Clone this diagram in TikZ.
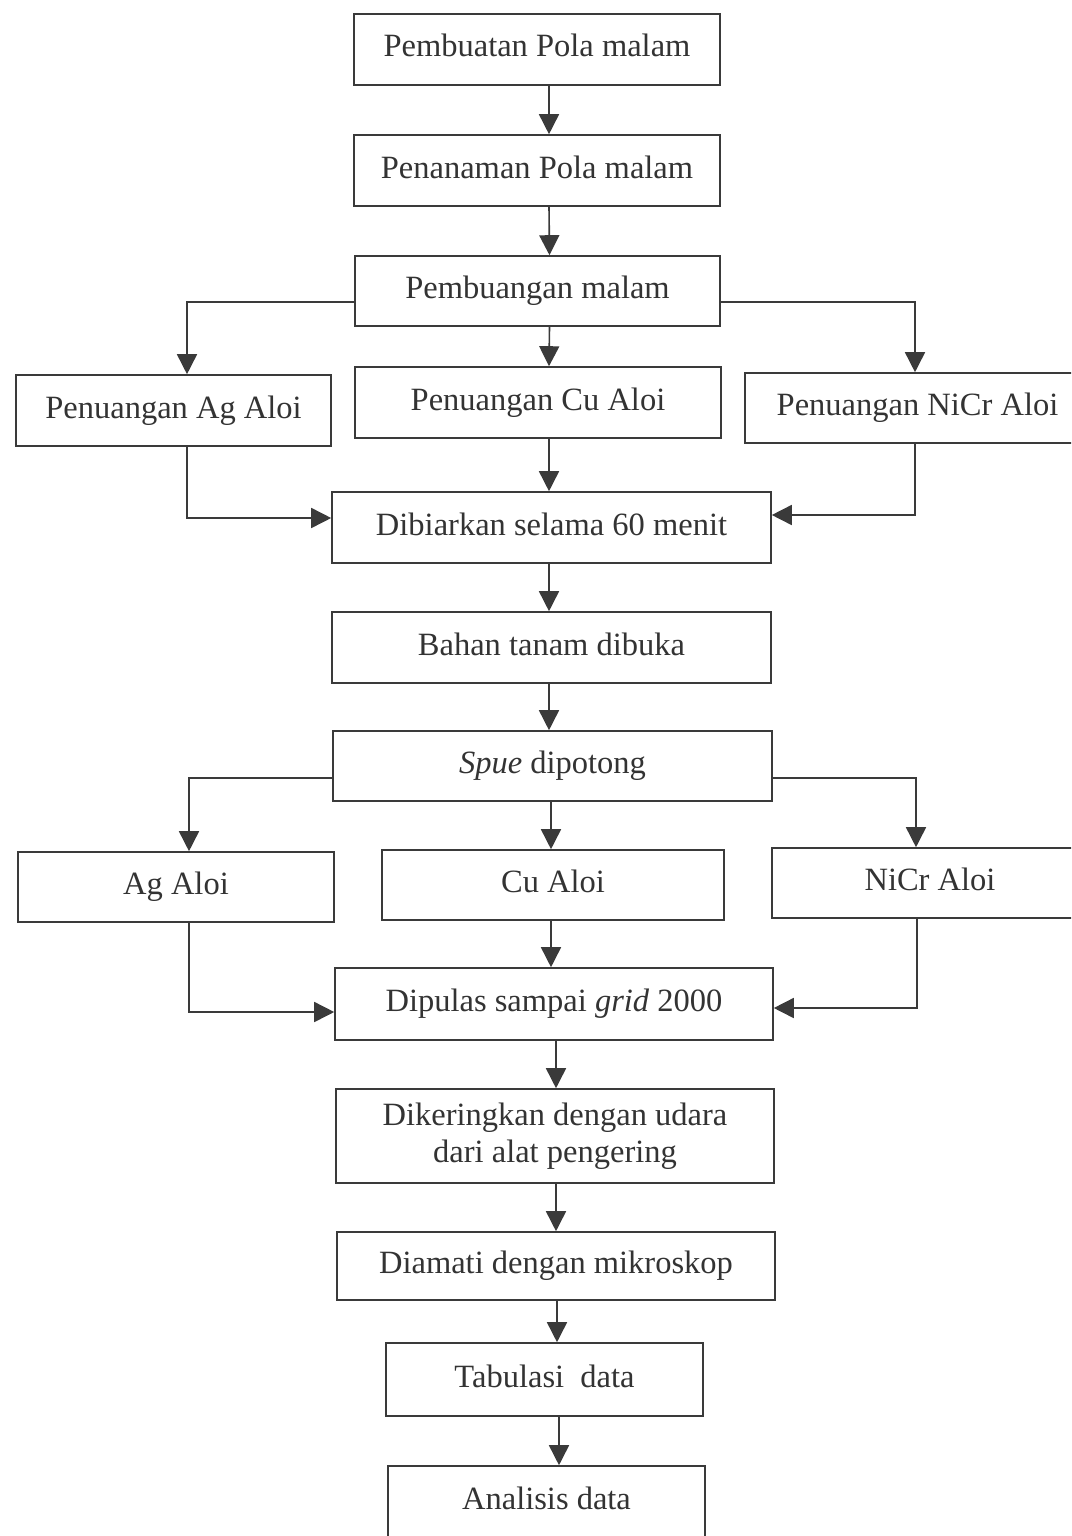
\documentclass[tikz,border=0pt]{standalone}
\usepackage{fontspec}
\setmainfont{Liberation Serif}
\usetikzlibrary{arrows.meta}
\definecolor{ink}{HTML}{333333}
\definecolor{lin}{HTML}{3A3A3A}
\begin{document}
\begin{tikzpicture}[x=1pt,y=-1pt,
  basebox/.style={draw=lin,line width=1.6pt,inner sep=0pt,text=ink,
    font=\fontsize{32.5}{37}\selectfont,align=center},
  box/.style={basebox,text height=23pt,text depth=8pt},
  arr/.style={draw=lin,line width=1.6pt,-{Triangle[width=20pt,length=20pt]}}]
\clip (0,0) rectangle (1071,1536);
\fill[white] (0,0) rectangle (1071,1536);
% boxes
\node[box,minimum width=366pt,minimum height=71pt] (b1) at (537,49.5) {Pembuatan Pola malam};
\node[box,minimum width=366pt,minimum height=71pt] (b2) at (537,170.5) {Penanaman Pola malam};
\node[box,minimum width=365pt,minimum height=70pt] (b3) at (537.5,291) {Pembuangan malam};
\node[box,minimum width=315pt,minimum height=71pt] (b4) at (173.5,410.5) {Penuangan Ag Aloi};
\node[box,minimum width=366pt,minimum height=71pt] (b5) at (538,402.5) {Penuangan Cu Aloi};
\node[box,minimum width=345pt,minimum height=70pt] (b6) at (917.5,408) {Penuangan NiCr Aloi};
\node[box,minimum width=439pt,minimum height=71pt] (b7) at (551.5,527.5) {Dibiarkan selama 60 menit};
\node[box,minimum width=439pt,minimum height=71pt] (b8) at (551.5,647.5) {Bahan tanam dibuka};
\node[box,minimum width=439pt,minimum height=70pt] (b9) at (552.5,766) {\textit{Spue} dipotong};
\node[box,minimum width=316pt,minimum height=70pt] (b10) at (176,887) {Ag Aloi};
\node[box,minimum width=342pt,minimum height=70pt] (b11) at (553,885) {Cu Aloi};
\node[box,minimum width=316pt,minimum height=70pt] (b12) at (930,883) {NiCr Aloi};
\node[box,minimum width=438pt,minimum height=72pt] (b13) at (554,1004) {Dipulas sampai \textit{grid} 2000};
\node[basebox,minimum width=438pt,minimum height=94pt] (b14) at (555,1136) {Dikeringkan dengan udara\\dari alat pengering};
\node[box,minimum width=438pt,minimum height=68pt] (b15) at (556,1266) {Diamati dengan mikroskop};
\node[box,minimum width=317pt,minimum height=73pt] (b16) at (544.5,1379.5) {Tabulasi\ \ data};
\node[box,minimum width=317pt,minimum height=72pt] (b17) at (546.5,1502) {Analisis data};
% straight connectors
\draw[arr] ([xshift=12pt]b1.south) -- ([xshift=12pt]b2.north);
\draw[arr] ([xshift=12pt]b2.south) -- ([xshift=12pt]b3.north);
\draw[arr] ([xshift=12pt]b3.south) -- ([xshift=11pt]b5.north);
\draw[arr] ([xshift=11pt]b5.south) -- ([xshift=-2.5pt]b7.north);
\draw[arr] ([xshift=-2.5pt]b7.south) -- ([xshift=-2.5pt]b8.north);
\draw[arr] ([xshift=-2.5pt]b8.south) -- ([xshift=-3.5pt]b9.north);
\draw[arr] ([xshift=-1.5pt]b9.south) -- ([xshift=-2pt]b11.north);
\draw[arr] ([xshift=-2pt]b11.south) -- ([xshift=-3pt]b13.north);
\draw[arr] ([xshift=2pt]b13.south) -- ([xshift=1pt]b14.north);
\draw[arr] ([xshift=1pt]b14.south) -- ([xshift=0pt]b15.north);
\draw[arr] ([xshift=1pt]b15.south) -- ([xshift=12.5pt]b16.north);
\draw[arr] ([xshift=14.5pt]b16.south) -- ([xshift=12.5pt]b17.north);
% branches
\draw[arr] ([yshift=-11pt]b3.west) -| ([xshift=13.5pt]b4.north);
\draw[arr] ([yshift=-11pt]b3.east) -| ([xshift=-2.5pt]b6.north);
\draw[arr] ([xshift=13.5pt]b4.south) |- ([yshift=9.5pt]b7.west);
\draw[arr] ([xshift=-2.5pt]b6.south) |- ([yshift=12.5pt]b7.east);
\draw[arr] ([yshift=-12pt]b9.west) -| ([xshift=13pt]b10.north);
\draw[arr] ([yshift=-12pt]b9.east) -| ([xshift=-14pt]b12.north);
\draw[arr] ([xshift=13pt]b10.south) |- ([yshift=-8pt]b13.west);
\draw[arr] ([xshift=-13pt]b12.south) |- ([yshift=-4pt]b13.east);
\end{tikzpicture}
\end{document}
